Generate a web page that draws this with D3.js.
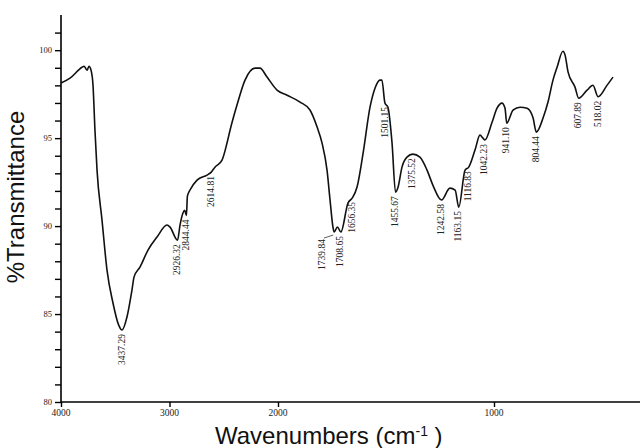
<!DOCTYPE html>
<html>
<head>
<meta charset="utf-8">
<script src="https://cdn.jsdelivr.net/npm/d3@7"></script>
<style>
  body { margin: 0; background: #fff; }
  .tick-lbl { font-family: "Liberation Serif", "DejaVu Serif", serif; fill: #222; }
  .peak { font-family: "Liberation Serif", "DejaVu Serif", serif; font-size: 9.5px; fill: #222; }
  .title { font-family: "Liberation Sans", Arial, sans-serif; font-size: 24px; fill: #111; }
</style>
</head>
<body>
<div id="chart"></div>
<script>
// spectrum (wavenumber cm-1, %T)
var wavenumbers = [4000, 3917, 3806, 3788, 3760, 3742, 3723, 3705, 3687, 3668, 3622, 3576, 3521, 3470, 3437,
  3392, 3346, 3327, 3272, 3198, 3115, 3023, 2995, 2926, 2903, 2876, 2860, 2844, 2835, 2811, 2746, 2654, 2615,
  2581, 2516, 2470, 2442, 2378, 2304, 2212, 2166, 2101, 2009, 1958, 1898, 1852, 1819, 1796, 1773, 1759, 1745,
  1740, 1725, 1709, 1676, 1656, 1634, 1606, 1574, 1551, 1528, 1519, 1505, 1491, 1472, 1456, 1444, 1426, 1403,
  1376, 1343, 1310, 1283, 1243, 1204, 1180, 1163, 1134, 1117, 1088, 1065, 1051, 1042, 1009, 986, 963, 949, 941,
  912, 879, 847, 819, 804, 773, 750, 727, 708, 681, 671, 657, 625, 608, 569, 542, 518, 477, 449];
var transmittance = [98.13, 98.41, 99.03, 99.09, 98.86, 99.09, 98.86, 98.01, 95.45, 93.18, 90.34, 87.5, 85.63, 84.4, 84.09,
  84.83, 86.36, 87.1, 87.67, 88.64, 89.38, 90.06, 89.94, 89.2, 90.06, 90.74, 90.9, 90.6, 91.7, 92.05, 92.61, 92.9, 93.07,
  93.35, 93.75, 94.72, 95.45, 96.88, 98.3, 98.98, 98.98, 98.47, 97.73, 97.44, 97.05, 96.6, 95.63, 94.72, 93.18, 91.48, 89.9,
  89.66, 89.95, 89.66, 91.31, 91.6, 92.22, 94.15, 96.76, 97.84, 98.3, 98.3, 97.0, 96.76, 94.72, 91.93, 92.22, 93.35, 93.92,
  94.09, 93.92, 93.18, 92.33, 91.48, 92.16, 92.05, 91.08, 93.18, 93.35, 94.32, 95.17, 95.0, 94.89, 95.9, 96.7, 96.99, 96.7, 95.85,
  96.59, 96.76, 96.7, 96.14, 95.34, 96.14, 97.05, 98.3, 99.03, 99.94, 99.72, 98.75, 97.9, 97.27, 97.73, 98.01, 97.35, 98.0, 98.47];

// peak labels
var peakLabels = ["3437.29", "2926.32", "2844.44", "2614.81", "1739.84", "1708.65", "1656.35", "1501.15",
  "1455.67", "1375.52", "1242.58", "1163.15", "1116.83", "1042.23", "941.10", "804.44", "607.89", "518.02"];

var xTicks = [4000, 3000, 2000, 1000];
var yTicks = [80, 85, 90, 95, 100];
var yMinorTicks = d3.range(80, 102, 1);

var W = 640, H = 448;

var svg = d3.select("#chart").append("svg")
  .attr("width", W).attr("height", H);

// x axis changes scale at 2000 cm-1 like the spectrometer printout
var x = d3.scaleLinear().domain([4000, 2000, 0]).range([61, 278, 710]);
var y = d3.scaleLinear().domain([80, 102]).range([402, 15]);

var data = wavenumbers.map(function(w, i) { return { wn: w, t: transmittance[i] }; });

// y axis
var yAxis = d3.axisLeft(y).tickValues(yMinorTicks).tickSize(6).tickFormat("");
var gy = svg.append("g").attr("transform", "translate(61,0)").call(yAxis);
gy.select(".domain").attr("d", "M0," + y(102) + "V" + y(80)).attr("stroke-width", 1.6);
gy.selectAll(".tick line").attr("stroke-width", 1.4);
svg.selectAll(".ylbl").data(yTicks).enter().append("text")
  .attr("class", "tick-lbl")
  .attr("x", 52).attr("y", function(d) { return y(d) + 3; })
  .attr("text-anchor", "end")
  .style("font-size", "8.5px")
  .text(function(d) { return d; });

// x axis
var xAxis = d3.axisBottom(x).tickValues(xTicks).tickSize(5).tickFormat("");
var gx = svg.append("g").attr("transform", "translate(0,402)").call(xAxis);
gx.select(".domain").attr("d", "M61,0H640").attr("stroke-width", 1.6);
gx.selectAll(".tick line").attr("stroke-width", 1.4);
svg.selectAll(".xlbl").data(xTicks).enter().append("text")
  .attr("class", "tick-lbl")
  .attr("x", function(d) { return x(d); }).attr("y", 416)
  .attr("text-anchor", "middle")
  .style("font-size", "9.5px")
  .text(function(d) { return d; });

// spectrum
var line = d3.line()
  .x(function(d) { return x(d.wn); })
  .y(function(d) { return y(d.t); })
  .curve(d3.curveMonotoneX);

svg.append("path")
  .datum(data)
  .attr("d", line)
  .attr("fill", "none")
  .attr("stroke", "#111")
  .attr("stroke-width", 1.6)
  .attr("stroke-linejoin", "round");

// %T under the label, from the nearest traced point
function tAt(wn) {
  var best = data[0];
  data.forEach(function(d) { if (Math.abs(d.wn - wn) < Math.abs(best.wn - wn)) best = d; });
  return best.t;
}

// label anchor points; push a label left if it would collide with the next one
var peaks = peakLabels.map(function(s) {
  var wn = +s;
  return { text: s, px: x(wn), py: y(tAt(wn)), lx: x(wn) };
});
for (var i = 0; i < peaks.length - 1; i++) {
  if (peaks[i + 1].lx - peaks[i].lx < 8) {
    peaks[i].lx = peaks[i + 1].lx - 18;
  }
}

// leader lines for the labels that were moved
svg.selectAll(".leader").data(peaks.filter(function(p) { return p.lx !== p.px; }))
  .enter().append("line")
  .attr("x1", function(p) { return p.px - 1; }).attr("y1", function(p) { return p.py + 3; })
  .attr("x2", function(p) { return p.lx + 1; }).attr("y2", function(p) { return p.py + 6; })
  .attr("stroke", "#333").attr("stroke-width", 0.8);

svg.selectAll(".peak").data(peaks).enter().append("text")
  .attr("class", "peak")
  .attr("transform", function(p) {
    var dy = p.lx !== p.px ? 7 : 4;
    return "translate(" + (p.lx + 2.5) + "," + (p.py + dy) + ") rotate(-90)";
  })
  .attr("text-anchor", "end")
  .text(function(p) { return p.text; });

// titles
svg.append("text")
  .attr("class", "title")
  .attr("transform", "translate(24,197) rotate(-90)")
  .attr("text-anchor", "middle")
  .text("%Transmittance");

var xt = svg.append("text")
  .attr("class", "title")
  .attr("x", 215).attr("y", 444);
xt.append("tspan").text("Wavenumbers (cm");
xt.append("tspan").attr("dy", -8).style("font-size", "14px").text("-1");
xt.append("tspan").attr("dy", 8).text(" )");
</script>
</body>
</html>
